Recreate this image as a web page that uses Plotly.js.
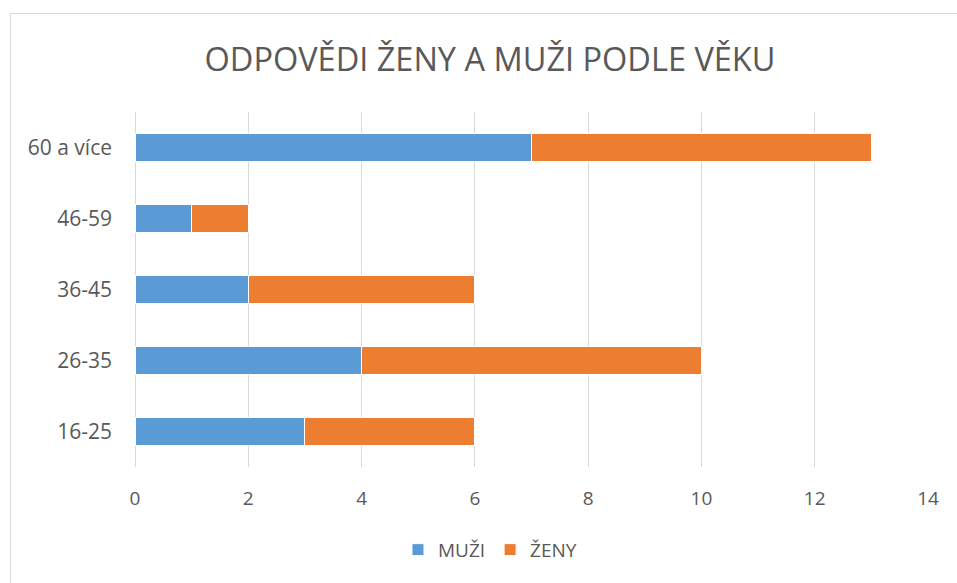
<!DOCTYPE html>
<html>
<head>
<meta charset="utf-8">
<script src="https://cdn.plot.ly/plotly-3.0.1.min.js"></script>
<style>
html,body{margin:0;padding:0;background:#fff;overflow:hidden;}
#chart{width:957px;height:583px;}
#frame{position:absolute;left:10px;top:13px;width:960px;height:600px;border:1px solid #d9d9d9;pointer-events:none;}
</style>
</head>
<body>
<div id="chart"></div>
<div id="frame"></div>
<script>
const categories = ['16-25', '26-35', '36-45', '46-59', '60 a více'];
const muzi = [3, 4, 2, 1, 7];
const zeny = [3, 6, 4, 1, 6];
const xTicks = [0, 2, 4, 6, 8, 10, 12, 14];

const textColor = '#595959';
const fontFam = '"Open Sans", "Noto Sans", sans-serif';

const data = [
  {type:'bar', orientation:'h', name:'MUŽI', y:categories, x:muzi,
   marker:{color:'#5B9BD5', line:{color:'#ffffff', width:1}}, hoverinfo:'x+y'},
  {type:'bar', orientation:'h', name:'ŽENY', y:categories, x:zeny,
   marker:{color:'#ED7D31', line:{color:'#ffffff', width:1}}, hoverinfo:'x+y'}
];

const layout = {
  width:957, height:583,
  paper_bgcolor:'#ffffff', plot_bgcolor:'#ffffff',
  barmode:'stack', bargap:0.6,
  margin:{l:135, r:29, t:112, b:116},
  font:{family:fontFam, color:textColor},
  title:{text:'ODPOVĚDI ŽENY A MUŽI PODLE VĚKU', font:{size:32.5, color:textColor, family:fontFam},
         xref:'container', x:0.512, xanchor:'center', yref:'container', y:0.897, yanchor:'middle'},
  xaxis:{range:[0,14], tickvals:xTicks, ticktext:xTicks.map(String), showgrid:true, gridcolor:'#d9d9d9', gridwidth:1,
         zeroline:true, zerolinecolor:'#d9d9d9', zerolinewidth:1, showline:false, ticks:'',
         tickfont:{size:19, color:textColor}, ticklabelstandoff:18, fixedrange:true},
  yaxis:{type:'category', categoryorder:'array', categoryarray:categories, showgrid:false, zeroline:false, showline:false,
         ticks:'', tickfont:{size:21, color:textColor}, ticklabelstandoff:22, fixedrange:true},
  showlegend:true,
  legend:{orientation:'h', xref:'container', x:0.512, xanchor:'center', yref:'container', y:0.057, yanchor:'middle',
          font:{size:19, color:textColor}, traceorder:'normal', itemwidth:30},
};

Plotly.newPlot('chart', data, layout, {displayModeBar:false, staticPlot:true});
</script>
</body>
</html>
